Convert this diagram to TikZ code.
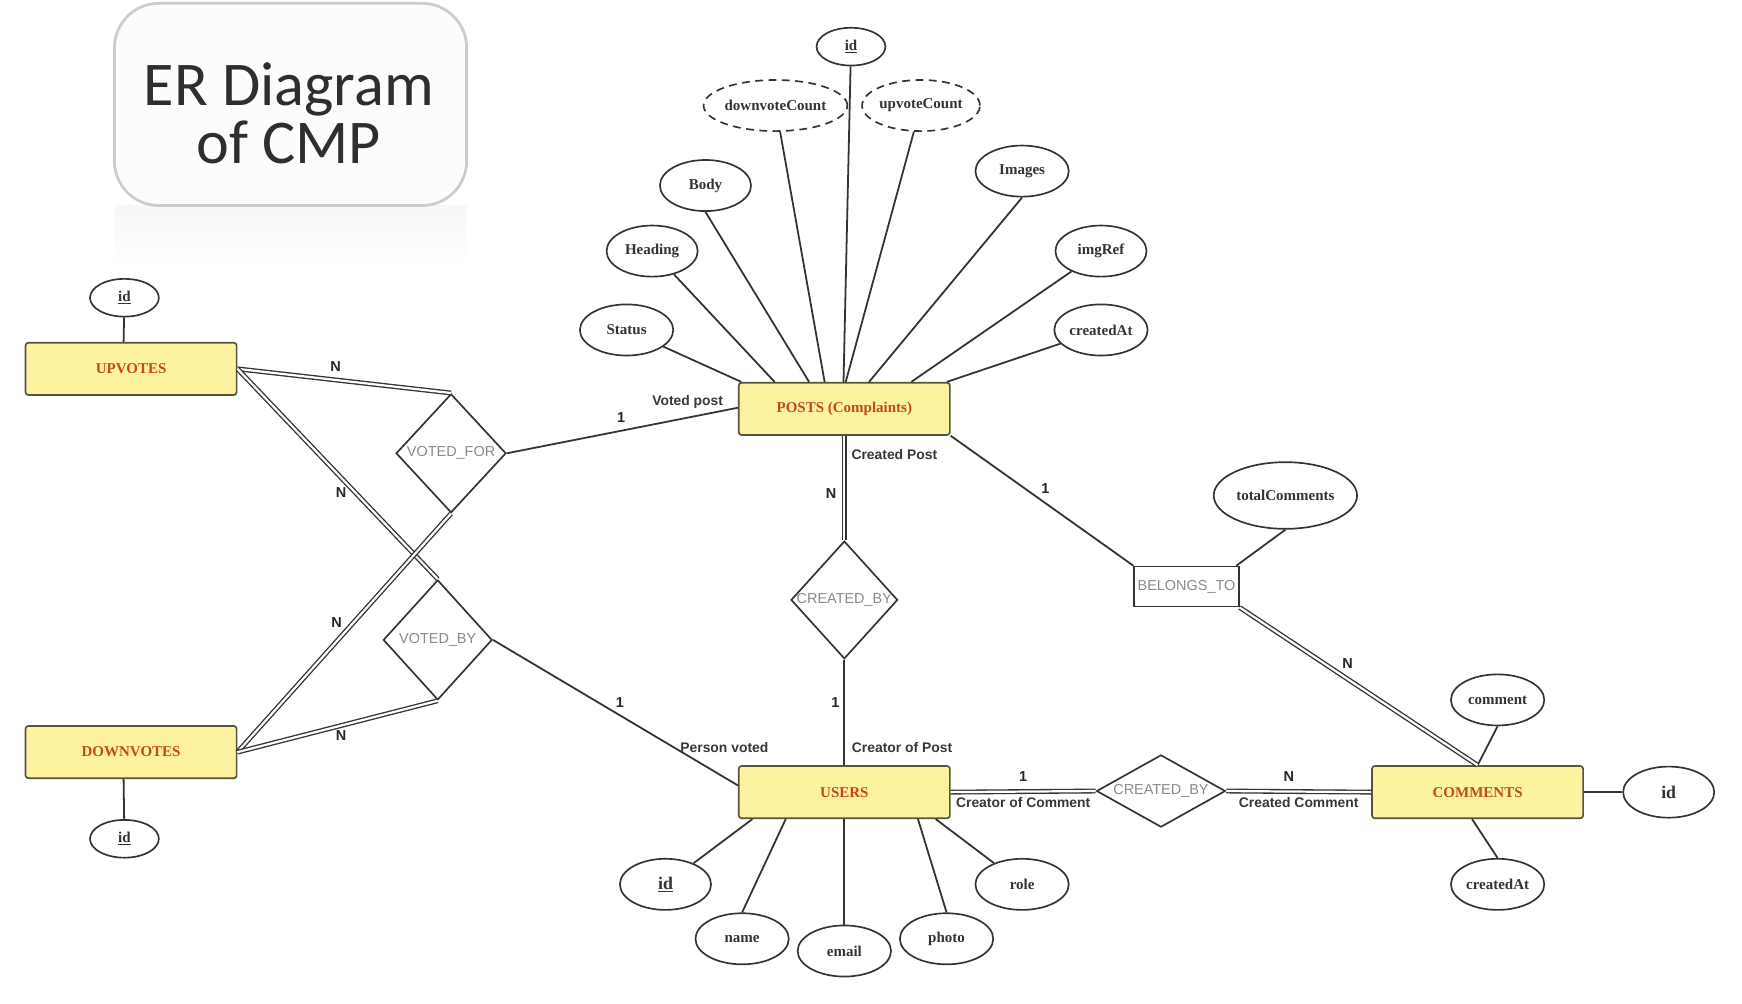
\documentclass[tikz,border=0pt]{standalone}
\usepackage{fontspec}
\setmainfont{Liberation Serif}
\newfontfamily\sansf{Liberation Sans}
\newfontfamily\titlef{Carlito}
\usetikzlibrary{shapes.geometric,calc}
\definecolor{linec}{HTML}{333333}
\definecolor{entfill}{HTML}{FDF2A0}
\definecolor{entdraw}{HTML}{56543F}
\definecolor{enttext}{HTML}{C24A1C}
\definecolor{reltext}{HTML}{8A8A8A}
\definecolor{attrtext}{HTML}{333333}
\definecolor{titledraw}{HTML}{CCCCCC}
\begin{document}
\begin{tikzpicture}[x=1pt,y=-1pt,
  entity/.style={rectangle, rounded corners=2.5pt, draw=entdraw, line width=1.5pt, fill=entfill,
    minimum width=190pt, minimum height=47pt, inner sep=0pt,
    font=\fontsize{13.5}{15}\selectfont\bfseries, text=enttext},
  attr/.style={ellipse, draw=linec, line width=1.5pt, fill=white, inner sep=0pt,
    minimum width=84pt, minimum height=46pt,
    font=\fontsize{13.5}{15}\selectfont\bfseries, text=attrtext},
  derived/.style={attr, dash pattern=on 7pt off 5pt},
  rel/.style={diamond, draw=linec, line width=1.5pt, fill=white, inner sep=0pt, aspect=1},
  reltxt/.style={font=\sansf\fontsize{13}{15}\selectfont, text=reltext, inner sep=0pt},
  conn/.style={draw=linec, line width=1.6pt},
  dbl/.style={draw=linec, line width=1.2pt, double=white, double distance=2pt},
  card/.style={font=\sansf\bfseries\fontsize{13}{15}\selectfont, text=black!85, inner sep=0pt},
  rolelbl/.style={font=\sansf\bfseries\fontsize{12.5}{14}\selectfont, text=black!78, inner sep=0pt},
]
\fill[white] (0,0) rectangle (1568,903);
\useasboundingbox (0,0) rectangle (1568,903);

% title
\shade[top color=black!3, bottom color=white] (103,185) rectangle (420,245);
\node[draw=titledraw, line width=2.5pt, fill=black!1, rounded corners=40pt,
      minimum width=317pt, minimum height=182pt, inner sep=0pt] (titlebox) at (261.5,94) {};
\node[font=\titlef\fontsize{56}{53}\selectfont, text=black!82, align=center, inner sep=0pt]
      (titletext) at (260,102) {ER Diagram\\of CMP};

% entities
\node[entity] (upvotes) at (118,332) {UPVOTES};
\node[entity] (downvotes) at (118,677) {DOWNVOTES};
\node[entity] (posts) at (760,368) {POSTS (Complaints)};
\node[entity] (users) at (760,713) {USERS};
\node[entity] (comments) at (1330,713) {COMMENTS};

% attributes
\node[attr, minimum width=62pt, minimum height=34pt] (upid) at (112,268) {\underline{id}};
\node[attr, minimum width=62pt, minimum height=34pt] (downid) at (112,755) {\underline{id}};
\node[attr, minimum width=62pt, minimum height=34pt] (pid) at (766,42) {\underline{id}};
\node[derived, minimum width=110pt] (pdown) at (698,95) {downvoteCount};
\node[derived, minimum width=98pt] (pup) at (829,95) {upvoteCount};
\node[attr, minimum width=82pt] (body) at (635,167) {Body};
\node[attr, minimum width=82pt] (heading) at (587,226) {Heading};
\node[attr] (status) at (564,297) {Status};
\node[attr] (images) at (920,154) {Images};
\node[attr, minimum width=82pt] (imgref) at (991,226) {imgRef};
\node[attr] (pcreated) at (991,297) {createdAt};
\node[attr, minimum width=129pt, minimum height=60pt] (total) at (1157,446) {totalComments};
\node[attr] (comment) at (1348,630) {comment};
\node[attr] (ccreated) at (1348,796) {createdAt};
\node[attr, minimum width=82pt, font=\fontsize{16}{18}\selectfont\bfseries] (cid) at (1502,713) {id};
\node[attr, minimum width=82pt, font=\fontsize{16}{18}\selectfont\bfseries] (uid) at (599,796) {\underline{id}};
\node[attr] (name) at (668,845) {name};
\node[attr] (email) at (760,856) {email};
\node[attr] (photo) at (852,845) {photo};
\node[attr] (role) at (920,796) {role};

% relationships
\node[rel, minimum width=99pt, minimum height=107pt,
      label={[reltxt, name=vflbl]center:VOTED\_FOR}] (vf) at (406,408) {};
\node[rel, minimum width=98pt, minimum height=108pt,
      label={[reltxt, name=vblbl]center:VOTED\_BY}] (vb) at (394,576) {};
\node[rel, minimum width=96pt, minimum height=106pt,
      label={[reltxt, name=cbvlbl]center:CREATED\_BY}] (cbv) at (760,540) {};
\node[rel, minimum width=116pt, minimum height=65pt,
      label={[reltxt, name=cbhlbl]center:CREATED\_BY}] (cbh) at (1045,712) {};
\node[draw=linec, line width=1.5pt, fill=white, minimum width=94pt, minimum height=36pt,
      inner sep=0pt, label={[reltxt, name=btlbl]center:BELONGS\_TO}] (belongs) at (1068,528) {};

% POSTS attribute lines
\draw[conn] (status) -- ($(posts.north west)+(3,0)$);
\draw[conn] (heading) -- ($(posts.north west)+(33,0)$);
\draw[conn] (body.south) -- ($(posts.north west)+(64,0)$);
\draw[conn] (pdown) -- ($(posts.north west)+(78,0)$);
\draw[conn] (pid) -- ($(posts.north west)+(95,0)$);
\draw[conn] (pup) -- ($(posts.north west)+(97,0)$);
\draw[conn] (images.south) -- ($(posts.north west)+(118,0)$);
\draw[conn] (imgref) -- ($(posts.north west)+(156,0)$);
\draw[conn] (pcreated) -- ($(posts.north west)+(188,0)$);

% USERS attribute lines
\draw[conn] (uid) -- ($(users.south west)+(13,0)$);
\draw[conn] (name.north) -- ($(users.south west)+(43,0)$);
\draw[conn] (email.north) -- (users.south);
\draw[conn] (photo.north) -- ($(users.south west)+(162,0)$);
\draw[conn] (role) -- ($(users.south west)+(178,0)$);

% COMMENTS attribute lines
\draw[conn] (comment.south) -- (comments.north);
\draw[conn] (ccreated.north) -- ($(comments.south)+(-5,0)$);
\draw[conn] (cid) -- (comments.east);

% id lines of votes
\draw[conn] (upid) -- ($(upvotes.north west)+(89,0)$);
\draw[conn] (downid) -- ($(downvotes.south west)+(89,0)$);

% relationship connectors
\draw[dbl] (upvotes.east) -- (vf.north);
\draw[dbl] (upvotes.east) -- (vb.north);
\draw[dbl] (downvotes.east) -- (vf.south);
\draw[dbl] (downvotes.east) -- (vb.south);
\draw[conn] (vf.east) -- ($(posts.west)+(0,-1)$);
\draw[conn] (vb.east) -- ($(users.west)+(0,-6)$);
\draw[dbl] (posts.south) -- (cbv.north);
\draw[conn] (cbv.south) -- (users.north);
\draw[conn] (posts.south east) -- (belongs.north west);
\draw[conn] ($(belongs.north east)+(-3,0)$) -- (total.south);
\draw[dbl] (belongs.south east) -- (comments.north);
\draw[dbl] (users.east) -- (cbh.west);
\draw[dbl] (cbh.east) -- (comments.west);

% cardinality and role labels
\node[card] (n1) at (302,330) {N};
\node[card] (n2) at (307,443) {N};
\node[card] (n3) at (303,560) {N};
\node[card] (n4) at (307,662) {N};
\node[card] (o1) at (559,376) {1};
\node[rolelbl] (votedpost) at (619,362) {Voted post};
\node[card] (o2) at (558,632) {1};
\node[rolelbl] (personvoted) at (652,673) {Person voted};
\node[card] (n5) at (748,444) {N};
\node[rolelbl] (createdpost) at (805,409) {Created Post};
\node[card] (o3) at (752,632) {1};
\node[rolelbl] (creatorpost) at (812,673) {Creator of Post};
\node[card] (o4) at (941,440) {1};
\node[card] (n6) at (1213,597) {N};
\node[card] (o5) at (921,699) {1};
\node[rolelbl] (creatorcomment) at (921,722) {Creator of Comment};
\node[card] (n7) at (1160,699) {N};
\node[rolelbl] (createdcomment) at (1169,722) {Created Comment};
\end{tikzpicture}
\end{document}
